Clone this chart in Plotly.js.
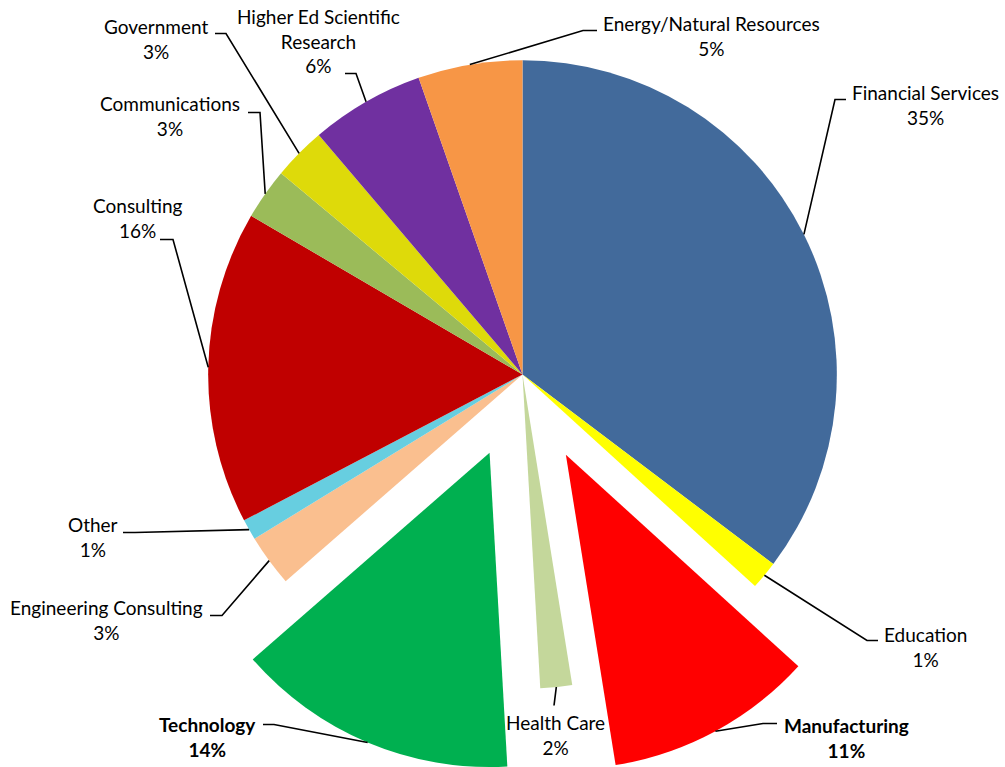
<!DOCTYPE html>
<html><head><meta charset="utf-8">
<script src="https://cdn.plot.ly/plotly-3.0.1.min.js"></script>
<style>
html,body{margin:0;padding:0;overflow:hidden;background:#fff;width:1005px;height:767px}
#chart{position:absolute;left:0;top:-31.5px;width:1005px;height:811px}
</style>
</head><body><div id="chart"></div>
<script>
// ---- data ----
const categories = ['Financial Services','Education','Manufacturing','Health Care','Technology',
  'Engineering Consulting','Other','Consulting','Communications','Government',
  'Higher Ed Scientific Research','Energy/Natural Resources'];
const displayNames = ['Financial Services','Education','Manufacturing','Health Care','Technology',
  'Engineering Consulting','Other','Consulting','Communications','Government',
  'Higher Ed Scientific<br>Research','Energy/Natural Resources'];
const values = [35.3, 1.45, 10.72, 1.63, 14.48, 2.67, 1.07, 16.1, 2.64, 2.72, 5.86, 5.36];

// ---- style / layout ----
const pulls = [0, 0, 0.29, 0, 0.27, 0, 0, 0, 0, 0, 0, 0];
const colors = ['#426A9B','#FFFF00','#FF0000','#C4D79B','#00B050','#FABF8F','#67CEE0',
  '#C00000','#9BBB59','#DEDA0A','#7030A0','#F79646'];
const boldLabel = [false,false,true,false,true,false,false,false,false,false,false,false];
// label placement in window pixels (center x, middle y of the text block)
const labelX = [925, 925, 846, 555, 207, 106, 93, 137, 170, 156, 318, 711];
const labelY = [105, 646, 737, 734, 736, 619, 536, 218, 116, 38, 40, 35];
// leader line: attach point next to text, elbow point
const attachPt = [[846,99],[878,640],[777,723],[554,705],[263,724],[210,615],[123,532],[160,239],[248,112],[215,33],[345,73],[597,30]];
const elbowPt  = [[835,99],[867,640],[763,723],[554,705],[274,724],[222,615],[135,532],[173,239],[260,112],[226,33],[356,73],[583,30]];

const FIG_W = 1005, FIG_H = 811, TOP_OFF = 31.5;
const M = {l: 117, r: 77, t: 0, b: 0};
const plotW = FIG_W - M.l - M.r, plotH = FIG_H - M.t - M.b;
const maxPull = Math.max(...pulls);
const R = Math.min(plotW, plotH) / (2 + 2 * maxPull);
const CX = M.l + plotW / 2;
const CY = M.t + plotH / 2 - TOP_OFF; // window coords

const px = x => (x - M.l) / plotW;
const py = y => 1 - (y + TOP_OFF - M.t) / plotH;

const total = values.reduce((a, b) => a + b, 0);
let cum = 0;
const annotations = [];
const shapes = [];
values.forEach((v, i) => {
  const a0 = cum / total * 2 * Math.PI;
  cum += v;
  const a1 = cum / total * 2 * Math.PI;
  const mid = (a0 + a1) / 2;
  const rr = R * (1 + pulls[i]);
  const ex = CX + rr * Math.sin(mid), ey = CY - rr * Math.cos(mid);
  const pct = Math.round(v / total * 100) + '%';
  let txt = displayNames[i] + '<br>' + pct;
  if (boldLabel[i]) txt = '<b>' + displayNames[i] + '<br>' + pct + '</b>';
  annotations.push({
    xref: 'paper', yref: 'paper', x: px(labelX[i]), y: py(labelY[i]),
    xanchor: 'center', yanchor: 'middle', showarrow: false, align: 'center',
    text: txt, font: {family: 'Lato, sans-serif', size: 19, color: '#000'}
  });
  const e = elbowPt[i], a = attachPt[i];
  shapes.push({
    type: 'path', xref: 'paper', yref: 'paper',
    path: `M ${px(ex)},${py(ey)} L ${px(e[0])},${py(e[1])} L ${px(a[0])},${py(a[1])}`,
    line: {color: '#000', width: 1.6}
  });
});

const trace = {
  type: 'pie', labels: categories, values: values, sort: false,
  direction: 'clockwise', rotation: 0, pull: pulls,
  marker: {colors: colors, line: {width: 0}},
  textinfo: 'none', hoverinfo: 'skip', showlegend: false
};
const layout = {
  width: FIG_W, height: FIG_H, margin: M,
  paper_bgcolor: '#fff', plot_bgcolor: '#fff', showlegend: false,
  annotations: annotations, shapes: shapes
};
Plotly.newPlot('chart', [trace], layout, {displayModeBar: false, staticPlot: true});
</script>
</body></html>
